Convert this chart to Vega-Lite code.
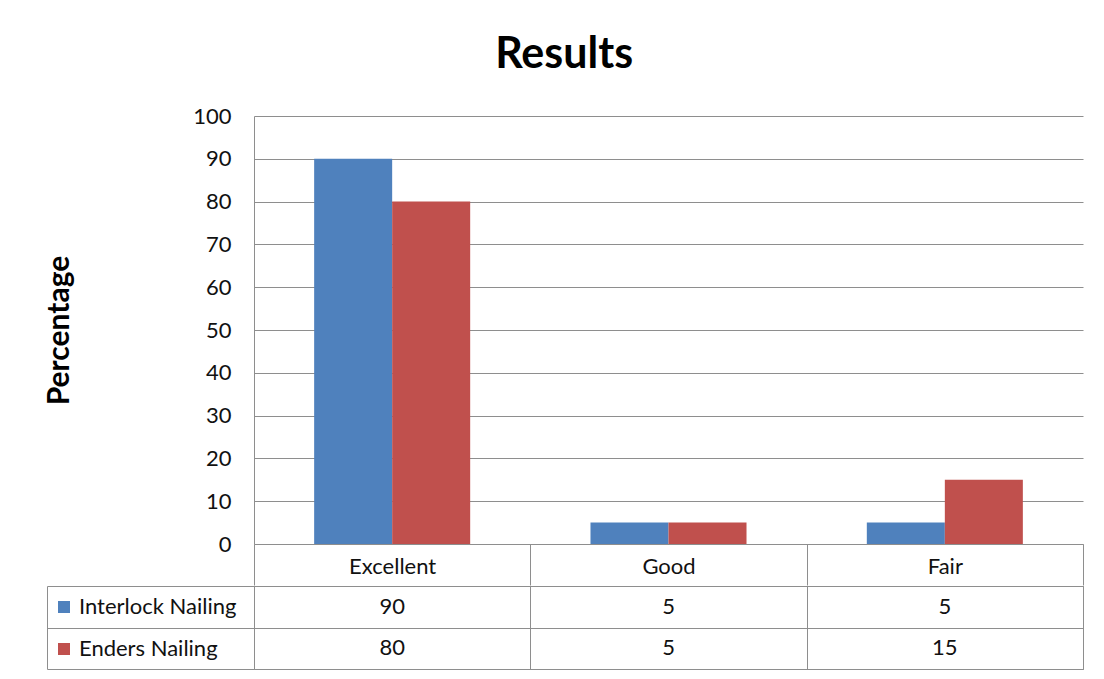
{
  "$schema": "https://vega.github.io/schema/vega-lite/v6.json",
  "padding": {"top": 34, "left": 44, "right": 0, "bottom": 0},
  "background": "white",
  "title": {"text": "Results", "fontSize": 43, "font": "Lato", "fontWeight": "bold", "color": "#000000", "anchor": "middle", "offset": 28},
  "data": {"values": [
    {"category": "Excellent", "series": "Interlock Nailing", "value": 90},
    {"category": "Excellent", "series": "Enders Nailing", "value": 80},
    {"category": "Good", "series": "Interlock Nailing", "value": 5},
    {"category": "Good", "series": "Enders Nailing", "value": 5},
    {"category": "Fair", "series": "Interlock Nailing", "value": 5},
    {"category": "Fair", "series": "Enders Nailing", "value": 15}
  ]},
  "spacing": -2,
  "vconcat": [
    {
      "width": 829,
      "height": 428,
      "view": {"stroke": null},
      "mark": {"type": "bar"},
      "encoding": {
        "x": {"field": "category", "type": "nominal", "sort": ["Excellent", "Good", "Fair"],
          "scale": {"paddingInner": 0, "paddingOuter": 0},
          "axis": {"title": null, "tickBand": "extent", "tickSize": 41, "tickColor": "#8e8e8e", "domainColor": "#8e8e8e", "labelPadding": -19, "labelBaseline": "middle", "labelAngle": 0, "labelFontSize": 22, "labelFont": "Lato", "labelColor": "#111111", "grid": false}},
        "xOffset": {"field": "series", "sort": ["Interlock Nailing", "Enders Nailing"], "scale": {"paddingInner": 0, "paddingOuter": 0.771}},
        "y": {"field": "value", "type": "quantitative", "scale": {"domain": [0, 100], "nice": false},
          "axis": {"title": "Percentage", "values": [0, 10, 20, 30, 40, 50, 60, 70, 80, 90, 100], "ticks": false, "domainColor": "#8e8e8e", "gridColor": "#8e8e8e", "labelFontSize": 22, "labelFont": "Lato", "labelColor": "#111111", "labelPadding": 23, "titleFontSize": 30, "titleFont": "Lato", "titleFontWeight": "bold", "titleColor": "#000000", "titlePadding": 118}},
        "color": {"field": "series", "type": "nominal", "sort": ["Interlock Nailing", "Enders Nailing"],
          "scale": {"domain": ["Interlock Nailing", "Enders Nailing"], "range": ["#4F81BD", "#C0504D"]},
          "legend": {"title": null, "orient": "none", "legendX": -201, "legendY": 480, "symbolType": "square", "symbolSize": 144, "symbolStrokeWidth": 0, "symbolOpacity": 1, "labelFontSize": 22, "labelFont": "Lato", "labelColor": "#111111", "rowPadding": 20, "labelOffset": 4, "padding": 0}}
      }
    },
    {
      "width": 829,
      "height": 83,
      "view": {"stroke": "#8e8e8e"},
      "mark": {"type": "text", "fontSize": 22, "font": "Lato", "color": "#111111"},
      "encoding": {
        "x": {"field": "category", "type": "nominal", "sort": ["Excellent", "Good", "Fair"], "scale": {"padding": 0},
          "axis": {"title": null, "labels": false, "ticks": false, "domain": false, "grid": true, "tickBand": "extent", "gridColor": "#8e8e8e"}},
        "y": {"field": "series", "type": "nominal", "sort": ["Interlock Nailing", "Enders Nailing"], "scale": {"padding": 0},
          "axis": {"title": null, "labels": false, "offset": 207, "domainColor": "#8e8e8e", "tickBand": "extent", "tickSize": -207, "tickColor": "#8e8e8e", "grid": true, "gridColor": "#8e8e8e"}},
        "text": {"field": "value", "type": "quantitative"}
      }
    }
  ]
}
